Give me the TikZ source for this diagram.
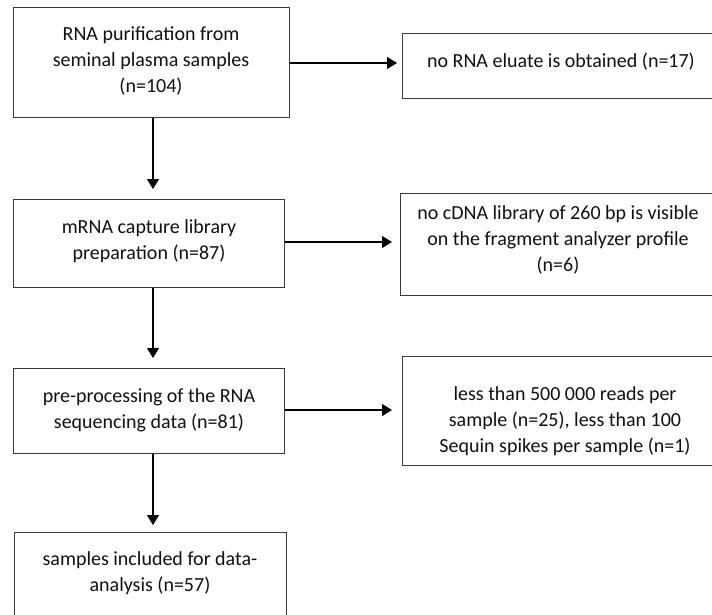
\documentclass[tikz,border=0pt]{standalone}
\usepackage{fontspec}
\setmainfont{Carlito}
\usetikzlibrary{arrows.meta}
\definecolor{edge}{HTML}{3A3A3A}
\definecolor{ink}{HTML}{111111}
\tikzset{
  box/.style={draw=edge, line width=1.4pt, fill=white, inner sep=0pt, anchor=north west},
  txt/.style={text=ink, align=center, inner sep=0pt, font=\fontsize{20}{26}\selectfont},
  arr/.style={draw=black, line width=1.3pt, -{Triangle[length=10pt,width=12pt]}}
}
\begin{document}
\begin{tikzpicture}[x=1pt,y=-1pt]
\clip (0,0) rectangle (712,614);
\fill[white] (0,0) rectangle (712,614);
% boxes
\node[box, minimum width=276pt, minimum height=110pt] (b1) at (13,7) {};
\node[box, minimum width=320pt, minimum height=65pt] (r1) at (402,33) {};
\node[box, minimum width=271pt, minimum height=88pt] (b2) at (13,199) {};
\node[box, minimum width=322pt, minimum height=102pt] (r2) at (400,193) {};
\node[box, minimum width=271pt, minimum height=85pt] (b3) at (13,368) {};
\node[box, minimum width=320pt, minimum height=109pt] (r3) at (402,356) {};
\node[box, minimum width=272pt, minimum height=100pt] (b4) at (14,532) {};
% texts
\node[txt] (t1) at (151,61) {RNA purification from\\seminal plasma samples\\(n=104)};
\node[txt] (tr1) at (561,62) {no RNA eluate is obtained (n=17)};
\node[txt] (t2) at (149,241) {mRNA capture library\\preparation (n=87)};
\node[txt] (tr2) at (558,240) {no cDNA library of 260 bp is visible\\on the fragment analyzer profile\\(n=6)};
\node[txt] (t3) at (149,410) {pre-processing of the RNA\\sequencing data (n=81)};
\node[txt] (tr3) at (565,421) {less than 500 000 reads per\\sample (n=25), less than 100\\Sequin spikes per sample (n=1)};
\node[txt] (t4) at (150,573) {samples included for data-\\analysis (n=57)};
% connectors
\coordinate (vx) at (153,0);
\draw[arr] (b1.south -| vx) -- ([yshift=10pt]b2.north -| vx);
\draw[arr] (b2.south -| vx) -- ([yshift=10pt]b3.north -| vx);
\draw[arr] (b3.south -| vx) -- ([yshift=7pt]b4.north -| vx);
\coordinate (h1) at (0,63);
\coordinate (h2) at (0,242);
\coordinate (h3) at (0,410);
\draw[arr] (b1.east |- h1) -- ([xshift=-5pt]r1.west |- h1);
\draw[arr] (b2.east |- h2) -- ([xshift=-8pt]r2.west |- h2);
\draw[arr] (b3.east |- h3) -- ([xshift=-10pt]r3.west |- h3);
\end{tikzpicture}
\end{document}
